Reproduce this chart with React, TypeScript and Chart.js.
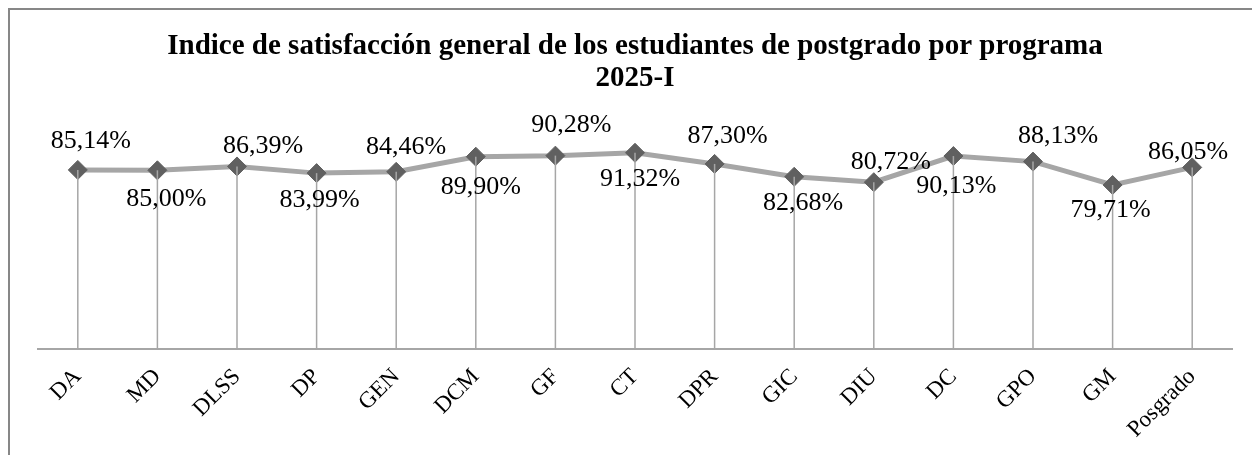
import React, { useEffect, useRef } from "react";
import { Chart, registerables } from "chart.js";

Chart.register(...registerables);

const categories = ["DA", "MD", "DLSS", "DP", "GEN", "DCM", "GF", "CT", "DPR", "GIC", "DIU", "DC", "GPO", "GM", "Posgrado"];
const satisfaction = [85.14, 85.0, 86.39, 83.99, 84.46, 89.9, 90.28, 91.32, 87.3, 82.68, 80.72, 90.13, 88.13, 79.71, 86.05];
const titleLines = ["Indice de satisfacción general de los estudiantes de postgrado por programa", "2025-I"];
// label nudges (pixels, relative to each point)
const labelNudgeX = [13, 9, 26, 3, 10, 5, 16, 5, 13, 9, 17, 3, 25, -2, -4];
const labelNudgeY = [-29, 29, -20, 27, -25, 30, -30, 26, -28, 26, -20, 30, -25, 25, -15];

const SERIF = "'Times New Roman', 'Liberation Serif', serif";

const formatPct = (v: number) => v.toFixed(2).replace(".", ",") + "%";

const dropAndLabels = {
  id: "dropAndLabels",
  afterDatasetsDraw(chart: any) {
    const ctx = chart.ctx;
    const meta = chart.getDatasetMeta(0);
    const base = chart.scales.x.top;
    ctx.save();
    ctx.strokeStyle = "#a6a6a6";
    ctx.lineWidth = 1.5;
    meta.data.forEach((pt: any) => {
      ctx.beginPath();
      ctx.moveTo(pt.x, pt.y);
      ctx.lineTo(pt.x, base);
      ctx.stroke();
    });
    ctx.font = `26px ${SERIF}`;
    ctx.fillStyle = "#000000";
    ctx.textAlign = "center";
    ctx.textBaseline = "middle";
    meta.data.forEach((pt: any, i: number) => {
      ctx.fillText(formatPct(satisfaction[i]), pt.x + labelNudgeX[i], pt.y + labelNudgeY[i]);
    });
    ctx.restore();
  },
};

export default function App() {
  const ref = useRef<HTMLCanvasElement | null>(null);

  useEffect(() => {
    if (!ref.current) return;
    const chart = new Chart(ref.current, {
      type: "line",
      data: {
        labels: categories,
        datasets: [
          {
            data: satisfaction,
            borderColor: "#a6a6a6",
            borderWidth: 5,
            pointStyle: "rectRot",
            pointRadius: 9.5,
            pointBackgroundColor: "#606060",
            pointBorderColor: "#606060",
            pointBorderWidth: 1,
            tension: 0,
          },
        ],
      },
      options: {
        animation: false,
        responsive: true,
        maintainAspectRatio: false,
        layout: { padding: { top: 0, left: 28, right: 28, bottom: 0 } },
        plugins: {
          legend: { display: false },
          tooltip: { enabled: false },
          title: {
            display: true,
            text: titleLines,
            color: "#000000",
            font: { family: SERIF, size: 29, weight: "bold", lineHeight: 1.1 },
            padding: { top: 21, bottom: 15.2 },
          },
        },
        scales: {
          x: {
            offset: true,
            grid: { display: false, drawTicks: false },
            border: { display: true, color: "#a6a6a6", width: 2 },
            ticks: {
              autoSkip: false,
              maxRotation: 45,
              minRotation: 45,
              padding: 14,
              color: "#000000",
              font: { family: SERIF, size: 23 },
            },
            afterFit: (scale: any) => {
              scale.height = 105.7;
            },
          },
          y: {
            display: false,
            min: 20.6,
            max: 106.7,
          },
        },
      },
      plugins: [dropAndLabels],
    });
    return () => chart.destroy();
  }, []);

  return (
    <>
      <style>{`html, body { overflow: hidden; }`}</style>
      <div
        style={{
          width: 1250,
          height: 470,
          borderTop: "2px solid #878787",
          borderLeft: "2px solid #878787",
          background: "#ffffff",
        }}
      >
        <div style={{ position: "relative", width: 1250, height: 445 }}>
          <canvas ref={ref} />
        </div>
      </div>
    </>
  );
}
